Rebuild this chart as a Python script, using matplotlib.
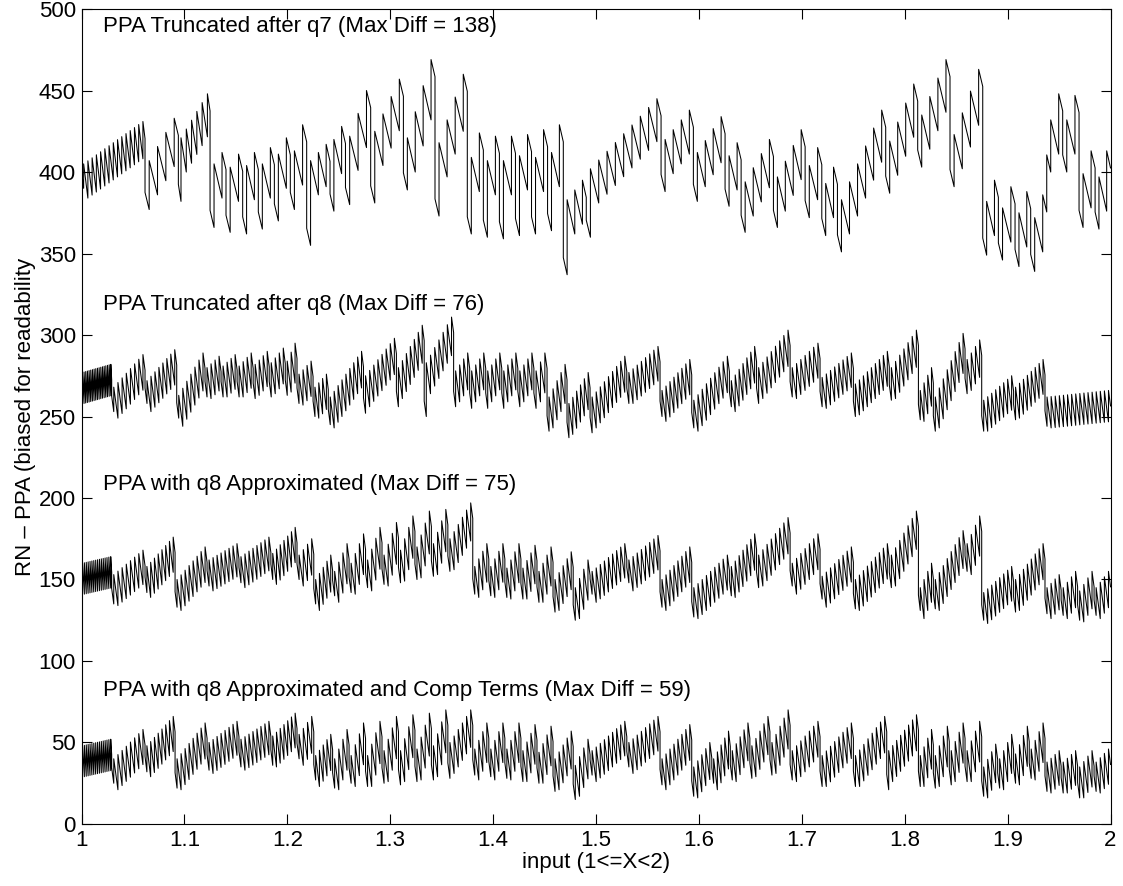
import numpy as np
import matplotlib
matplotlib.use("Agg")
import matplotlib.pyplot as plt

plt.rcParams['font.family'] = ['Liberation Sans', 'DejaVu Sans']

# Each trace is a run of saw-tooth blocks:
# block start x, low point after the drop, first and last tooth peak, teeth count
q7_x0 = [1.0000, 1.0617, 1.0941, 1.1249, 1.1404, 1.1566, 1.1718, 1.1874, 1.2029,
         1.2188, 1.2415, 1.2565, 1.2810, 1.3128, 1.3435, 1.3749, 1.3905, 1.4061,
         1.4217, 1.4373, 1.4529, 1.4682, 1.4905, 1.5632, 1.5946, 1.6254, 1.6410,
         1.6724, 1.7032, 1.7194, 1.7346, 1.7815, 1.8126, 1.8440, 1.8758, 1.8910,
         1.9072, 1.9224, 1.9380, 1.9535, 1.9694, 1.9850]
q7_lo = [390, 377, 382, 366, 363, 362, 365, 370, 377, 355, 376, 380, 381, 389, 373,
         362, 360, 359, 361, 362, 364, 337, 360, 388, 382, 379, 363, 366, 372, 361,
         351, 387, 403, 391, 349, 346, 342, 339, 400, 400, 366, 365]
q7_p0 = [405, 407, 421, 405, 403, 404, 405, 411, 413, 407, 420, 422, 425, 421, 418,
         409, 407, 407, 410, 409, 412, 383, 402, 420, 412, 410, 394, 397, 404, 393,
         383, 419, 435, 423, 382, 378, 375, 372, 432, 432, 399, 397]
q7_p1 = [431, 433, 448, 412, 411, 412, 415, 421, 429, 417, 428, 450, 457, 469, 460,
         424, 422, 422, 423, 426, 429, 395, 445, 438, 434, 418, 420, 426, 415, 403,
         438, 454, 469, 463, 395, 391, 388, 386, 448, 447, 413, 413]
q7_n = [15, 4, 6, 2, 2, 2, 2, 2, 2, 3, 2, 3, 4, 4, 4, 2, 2, 2, 2, 2, 2, 3, 9, 4, 4,
        2, 4, 4, 2, 2, 6, 4, 4, 4, 2, 2, 2, 2, 2, 2, 2, 2]

q8_x0 = [1.0000, 1.0293, 1.0617, 1.0925, 1.1200, 1.1356, 1.1512, 1.1668, 1.1824,
         1.1980, 1.2094, 1.2250, 1.2398, 1.2740, 1.3060, 1.3330, 1.3616, 1.3772,
         1.3928, 1.4084, 1.4240, 1.4396, 1.4524, 1.4718, 1.4942, 1.5299, 1.5622,
         1.5930, 1.6296, 1.6560, 1.6886, 1.7177, 1.7501, 1.7850, 1.8133, 1.8278,
         1.8586, 1.8748, 1.9058, 1.9363]
q8_lo = [262, 253, 258, 249, 262, 262, 262, 261, 262, 263, 258, 250, 245, 252, 256,
         250, 256, 255, 255, 255, 256, 255, 241, 237, 240, 258, 250, 243, 256, 258,
         262, 256, 250, 260, 248, 241, 264, 241, 248, 244]
q8_p0 = [277, 268, 272, 263, 280, 281, 281, 282, 283, 284, 276, 268, 262, 275, 280,
         283, 278, 278, 278, 278, 278, 278, 262, 258, 262, 277, 266, 260, 272, 280,
         280, 274, 270, 280, 266, 262, 285, 260, 268, 262]
q8_p1 = [282, 288, 291, 289, 287, 288, 289, 290, 292, 295, 284, 276, 290, 298, 306,
         311, 289, 289, 289, 289, 289, 289, 282, 277, 287, 293, 285, 287, 293, 303,
         295, 289, 290, 303, 280, 301, 297, 275, 285, 266]
q8_n = [18, 8, 8, 7, 4, 4, 4, 4, 4, 3, 4, 4, 9, 8, 7, 7, 4, 4, 4, 4, 4, 3, 5, 6, 9,
        8, 8, 9, 7, 8, 7, 8, 9, 7, 4, 8, 4, 8, 8, 16]

apx_x0 = [1.0000, 1.0293, 1.0617, 1.0909, 1.1220, 1.1530, 1.1840, 1.2094, 1.2257,
          1.2440, 1.2600, 1.2760, 1.2920, 1.3080, 1.3240, 1.3400, 1.3560, 1.3802,
          1.3958, 1.4114, 1.4270, 1.4426, 1.4582, 1.4778, 1.4942, 1.5299, 1.5622,
          1.5930, 1.6296, 1.6560, 1.6886, 1.7177, 1.7501, 1.7850, 1.8133, 1.8278,
          1.8586, 1.8748, 1.9058, 1.9363, 1.9520, 1.9680, 1.9840]
apx_lo = [146, 135, 142, 133, 146, 148, 150, 150, 135, 140, 142, 145, 147, 148, 150,
          152, 155, 141, 140, 139, 138, 136, 130, 125, 141, 148, 133, 127, 140, 145,
          146, 138, 132, 145, 131, 132, 155, 125, 130, 129, 128, 125, 128]
apx_p0 = [160, 153, 158, 150, 162, 164, 166, 165, 150, 155, 160, 162, 165, 168, 170,
          172, 175, 158, 158, 157, 157, 155, 150, 145, 155, 162, 150, 145, 158, 165,
          160, 152, 150, 165, 145, 150, 172, 142, 150, 145, 145, 143, 145]
apx_p1 = [164, 168, 176, 170, 172, 176, 182, 175, 165, 172, 178, 182, 185, 189, 192,
          193, 197, 172, 172, 172, 171, 170, 167, 162, 172, 177, 170, 165, 178, 188,
          178, 170, 172, 192, 160, 180, 189, 158, 172, 153, 155, 155, 155]
apx_n = [16, 8, 8, 8, 8, 8, 7, 4, 5, 4, 4, 4, 4, 4, 4, 4, 6, 4, 4, 4, 4, 4, 5, 4, 9,
         8, 8, 9, 7, 8, 7, 8, 9, 7, 4, 8, 4, 8, 8, 4, 4, 4, 4]

cmp_x0 = [1.0000, 1.0293, 1.0617, 1.0909, 1.1220, 1.1530, 1.1840, 1.2094, 1.2257,
          1.2440, 1.2600, 1.2760, 1.2920, 1.3080, 1.3240, 1.3400, 1.3560, 1.3802,
          1.3958, 1.4114, 1.4270, 1.4426, 1.4582, 1.4778, 1.4942, 1.5299, 1.5622,
          1.5930, 1.6125, 1.6305, 1.6495, 1.6690, 1.6886, 1.7177, 1.7501, 1.7825,
          1.8133, 1.8278, 1.8433, 1.8586, 1.8748, 1.8903, 1.9058, 1.9210, 1.9363,
          1.9520, 1.9680, 1.9840]
cmp_lo = [32, 25, 32, 22, 33, 35, 36, 40, 27, 22, 25, 23, 25, 24, 26, 27, 28, 30, 29,
          28, 26, 25, 20, 15, 30, 35, 24, 17, 25, 27, 28, 30, 27, 23, 23, 21, 23, 22,
          24, 26, 17, 22, 25, 28, 20, 19, 16, 20]
cmp_p0 = [48, 40, 48, 40, 50, 52, 54, 55, 42, 40, 42, 42, 45, 45, 46, 48, 50, 46, 46,
          46, 45, 44, 40, 36, 45, 50, 40, 35, 40, 45, 48, 50, 45, 42, 42, 45, 42, 42,
          45, 45, 35, 40, 43, 46, 38, 38, 35, 38]
cmp_p1 = [52, 58, 66, 62, 63, 63, 68, 66, 55, 58, 62, 63, 66, 67, 68, 70, 70, 62, 62,
          62, 61, 60, 57, 52, 63, 66, 61, 50, 57, 62, 66, 70, 63, 62, 66, 67, 58, 60,
          62, 63, 49, 55, 60, 62, 45, 45, 45, 46]
cmp_n = [16, 8, 8, 8, 8, 8, 7, 4, 5, 4, 4, 4, 4, 4, 4, 4, 6, 4, 4, 4, 4, 4, 5, 4, 9,
         8, 8, 5, 5, 5, 5, 5, 7, 8, 8, 8, 4, 4, 4, 4, 4, 4, 4, 4, 4, 4, 4, 4]

labels = ["PPA Truncated after q7 (Max Diff = 138)",
          "PPA Truncated after q8 (Max Diff = 76)",
          "PPA with q8 Approximated (Max Diff = 75)",
          "PPA with q8 Approximated and Comp Terms (Max Diff = 59)"]
label_y = [489, 319, 208, 82]

x_end = 2.0


def sawtooth(x0, lo, p0, p1, n, depth):
    # every tooth jumps up to its peak and then runs down by `depth`
    xs, ys = [], []
    edges = list(x0[1:]) + [x_end]
    for i in range(len(x0)):
        a, b = x0[i], edges[i]
        w = (b - a) / n[i]
        xs += [a, a + w / 2]
        ys += [lo[i] + depth / 2, lo[i]]
        peaks = np.linspace(p0[i], p1[i], n[i])
        for k, p in enumerate(peaks):
            t = a + w / 2 + k * w
            span = min(w, b - t)
            xs += [t, t + span]
            ys += [p, p - depth * span / w]
    return xs, ys


fig = plt.figure(figsize=(11.23, 8.86), dpi=100)
ax = fig.add_axes([0.0726, 0.070, 0.9163, 0.9198])

traces = [(q7_x0, q7_lo, q7_p0, q7_p1, q7_n, 21),
          (q8_x0, q8_lo, q8_p0, q8_p1, q8_n, 19),
          (apx_x0, apx_lo, apx_p0, apx_p1, apx_n, 19),
          (cmp_x0, cmp_lo, cmp_p0, cmp_p1, cmp_n, 19)]
for tr in traces:
    xs, ys = sawtooth(*tr)
    ax.plot(xs, ys, color='k', lw=0.75)

for txt, ty in zip(labels, label_y):
    ax.text(1.021, ty, txt, fontsize=16, va='center', ha='left')

ax.set_xlim(1, 2)
ax.set_ylim(0, 500)
xt = np.arange(1, 2.01, 0.1)
ax.set_xticks(xt)
ax.set_xticklabels(["1", "1.1", "1.2", "1.3", "1.4", "1.5", "1.6", "1.7", "1.8",
                    "1.9", "2"])
ax.set_yticks(np.arange(0, 501, 50))
ax.tick_params(direction='in', length=7, width=0.8, top=True, right=True,
               labelsize=16, pad=4)
for s in ax.spines.values():
    s.set_linewidth(0.8)
ax.set_xlabel("input (1<=X<2)", fontsize=16, labelpad=1)
ax.set_ylabel("RN \u2013 PPA (biased for readability", fontsize=16, labelpad=2)

fig.savefig("out.png", dpi=100)
